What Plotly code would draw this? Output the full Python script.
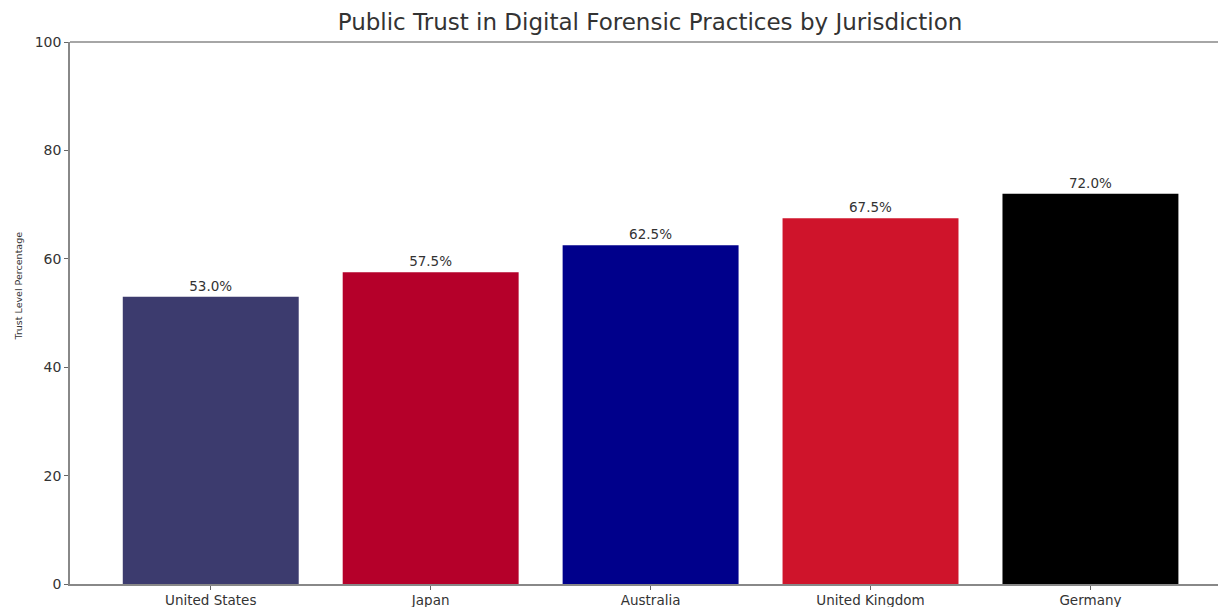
import plotly.graph_objects as go

jurisdictions = ["United States", "Japan", "Australia", "United Kingdom", "Germany"]
trust_levels = [53.0, 57.5, 62.5, 67.5, 72.0]
bar_colors = ["#3C3B6E", "#B5002A", "#00008B", "#CF142B", "#000000"]
y_ticks = [0, 20, 40, 60, 80, 100]

fig = go.Figure()
fig.add_trace(go.Bar(
    x=list(range(len(jurisdictions))),
    y=trust_levels,
    width=0.8,
    marker=dict(color=bar_colors, line=dict(width=0)),
    text=[f"{v:.1f}%" for v in trust_levels],
    textposition="outside",
    textfont=dict(family="DejaVu Sans", size=13.5, color="#333333"),
    cliponaxis=False,
))

fig.update_layout(
    width=1220, height=607,
    margin=dict(l=70, r=2, t=42, b=23, autoexpand=False),
    paper_bgcolor="white", plot_bgcolor="white",
    showlegend=False,
    title=dict(text="Public Trust in Digital Forensic Practices by Jurisdiction",
               x=650 / 1220, xanchor="center", xref="container", y=1 - 22 / 607, yanchor="middle",
               font=dict(family="DejaVu Sans", size=23, color="#333333")),
    font=dict(family="DejaVu Sans", size=14, color="#333333"),
    bargap=0.2,
)
fig.update_xaxes(
    range=[-0.64, 4.58],
    tickmode="array", tickvals=list(range(len(jurisdictions))), ticktext=jurisdictions,
    showline=True, linecolor="#888888", linewidth=1.5, mirror=False,
    ticks="outside", ticklen=4, tickcolor="#666666",
    showgrid=False, zeroline=False, automargin=False,
    ticklabelstandoff=-1,
    tickfont=dict(size=13.5, color="#333333"),
)
fig.update_yaxes(
    range=[0, 100],
    tickmode="array", tickvals=y_ticks,
    showline=True, linecolor="#888888", linewidth=1.5,
    ticks="outside", ticklen=4, tickcolor="#666666",
    showgrid=False, zeroline=False, automargin=False,
    tickfont=dict(size=14, color="#333333"),
)
# y-axis label
fig.add_annotation(text="Trust Level Percentage", textangle=-90,
                   xref="paper", yref="paper", x=0, xshift=-52, y=(584 - 286.5) / 542,
                   xanchor="center", yanchor="middle", showarrow=False,
                   font=dict(family="DejaVu Sans", size=9.5, color="#333333"))
# top spine
fig.add_shape(type="line", xref="paper", yref="paper", x0=0, x1=1, y0=1, y1=1,
              line=dict(color="#888888", width=1.5))

fig.write_html("out.html", config={"displayModeBar": False},
               post_script="document.body.style.margin='0';document.body.style.overflow='hidden';")
